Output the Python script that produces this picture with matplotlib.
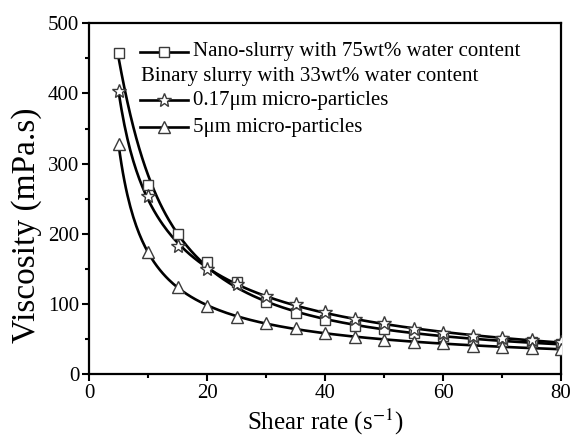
import numpy as np
import matplotlib
matplotlib.use("Agg")
import matplotlib.pyplot as plt

plt.rcParams['font.family'] = ['Liberation Serif', 'DejaVu Serif']
plt.rcParams['mathtext.fontset'] = 'stix'

shear_rate = [5, 10, 15, 20, 25, 30, 35, 40, 45, 50, 55, 60, 65, 70, 75, 80]
nano_75wt = [458, 269, 200, 160, 131, 103, 87, 77, 68, 64, 58, 54, 50, 47, 45, 43]
micro_017um = [403, 254, 183, 150, 128, 111, 100, 89, 79, 72, 64, 59, 54, 51, 48, 46]
micro_5um = [328, 174, 124, 97, 81, 73, 65, 59, 53, 49, 46, 44, 40, 38, 37, 36]

labels = ["Nano-slurry with 75wt% water content",
          "Binary slurry with 33wt% water content",
          "0.17\u03bcm micro-particles",
          "5\u03bcm micro-particles"]

fig = plt.figure(figsize=(5.73, 4.42), dpi=100)
ax = fig.add_axes([89/573, 1-374/442, (561-89)/573, (374-23.3)/442])

x = np.asarray(shear_rate, float)
xs = np.linspace(x.min(), x.max(), 300)
series = [(nano_75wt, 's', 7), (micro_017um, '*', 10), (micro_5um, '^', 9)]
for ys, mk, ms in series:
    y = np.asarray(ys, float)
    coef = np.polyfit(np.log(x), np.log(y), 3)
    ax.plot(xs, np.exp(np.polyval(coef, np.log(xs))), color='black', lw=1.9, zorder=2)
    ax.plot(x, y, ls='none', marker=mk, ms=ms, mfc='white', mec='#3a3a3a', mew=1.0, zorder=3)

ax.set_xlim(0, 80)
ax.set_ylim(0, 500)
ax.set_xticks([0, 20, 40, 60, 80])
ax.set_xticks([10, 30, 50, 70], minor=True)
ax.set_yticks([0, 100, 200, 300, 400, 500])
ax.set_yticks([50, 150, 250, 350, 450], minor=True)
ax.tick_params(which='major', direction='out', length=5, width=1.5, labelsize=15, pad=2)
ax.tick_params(which='minor', direction='out', length=3, width=1.5)
ax.tick_params(top=False, right=False)
for sp in ax.spines.values():
    sp.set_linewidth(1.6)

ax.set_xlabel("Shear rate (s$^{\\mathrm{-1}}$)", fontsize=18, labelpad=3)
ax.set_ylabel("Viscosity (mPa.s)", fontsize=24)
ax.yaxis.set_label_coords(-0.10, 0.425)

# legend drawn manually
x0, x1, xt = 0.108, 0.21, 0.221
rows = [0.919, 0.847, 0.781, 0.704]
leg_marks = [('s', 7), None, ('*', 10), ('^', 9)]
for i, (lab, r) in enumerate(zip(labels, rows)):
    if leg_marks[i] is None:
        ax.text(0.110, r, lab, transform=ax.transAxes, fontsize=15, va='center', ha='left')
        continue
    mk, ms = leg_marks[i]
    ax.plot([x0, x1], [r, r], transform=ax.transAxes, color='black', lw=1.9, clip_on=False)
    ax.plot([(x0+x1)/2], [r], transform=ax.transAxes, marker=mk, ms=ms, mfc='white',
            mec='#3a3a3a', mew=1.0, ls='none', clip_on=False)
    ax.text(xt, r, lab, transform=ax.transAxes, fontsize=15, va='center', ha='left')

fig.savefig("out.png", dpi=100)
